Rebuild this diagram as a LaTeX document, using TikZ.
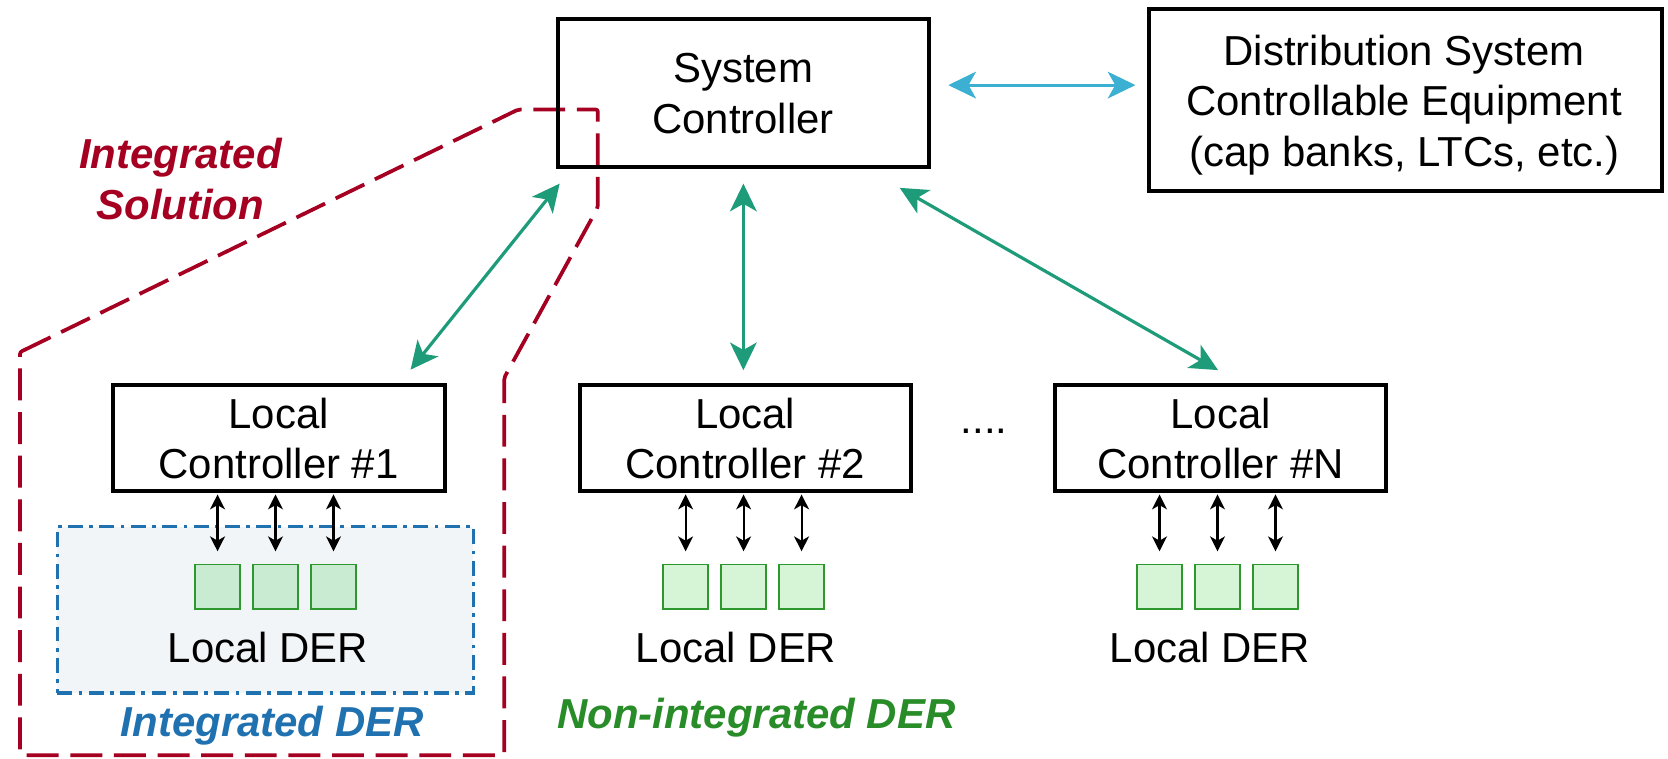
\documentclass[tikz,border=0pt]{standalone}
\usepackage{fontspec}
\setmainfont{Liberation Sans}
\usetikzlibrary{arrows.meta}
\definecolor{solred}{RGB}{165,0,33}
\definecolor{derblue}{RGB}{31,113,176}
\definecolor{dergreen}{RGB}{40,140,40}
\definecolor{linkgreen}{RGB}{30,155,120}
\definecolor{linkblue}{RGB}{59,176,210}
\definecolor{sqedge}{RGB}{46,152,46}
\definecolor{sqfill}{RGB}{214,244,214}
\definecolor{sqfillin}{RGB}{201,235,210}
\definecolor{iderfill}{RGB}{242,245,248}
\begin{document}
\begin{tikzpicture}[x=1pt,y=-1pt,
  bigfont/.style={font=\fontsize{39.4}{47.5}\selectfont},
  lblfont/.style={font=\fontsize{39.4}{47.5}\selectfont\bfseries\itshape},
  ctrl/.style={draw=black, line width=3.7pt, inner sep=0pt},
  txt/.style={bigfont, align=center, inner sep=0pt, anchor=north},
  der/.style={draw=sqedge, line width=1.5pt, minimum size=42pt, inner sep=0pt},
  garrow/.style={draw=linkgreen, line width=3pt,
    {Stealth[length=26pt,width=25pt,inset=7pt]}-{Stealth[length=26pt,width=25pt,inset=7pt]}},
  barrow/.style={draw=linkblue, line width=3pt,
    {Stealth[length=26pt,width=25pt,inset=7pt]}-{Stealth[length=26pt,width=25pt,inset=7pt]}},
  karrow/.style={draw=black, line width=2pt,
    {Stealth[length=14pt,width=14pt,inset=4pt]}-{Stealth[length=14pt,width=14pt,inset=4pt]}},
]
\useasboundingbox (0,0) rectangle (1568,713);

% integrated solution outline
\draw[solred, line width=3.5pt, dash pattern=on 30pt off 11pt, rounded corners=2pt]
  (18.8,331) -- (487,103) -- (562,103) -- (562,195) -- (474,355) -- (474,710) -- (18.8,710) -- cycle;
\node[lblfont, text=solred, align=center, inner sep=0pt, anchor=north] (soltxt) at (169.5,129.8) {Integrated\\Solution};

% integrated DER region
\node[draw=derblue, fill=iderfill, line width=3.4pt, dash pattern=on 14pt off 6pt on 3.5pt off 6pt,
  minimum width=391pt, minimum height=156.5pt, inner sep=0pt] (ider) at (249.5,573.25) {};

% controllers
\node[ctrl, minimum width=348.7pt, minimum height=139.3pt] (sys) at (698.8,87.5) {};
\node[ctrl, minimum width=482.3pt, minimum height=170.3pt] (dist) at (1321,94) {};
\node[ctrl, minimum width=312.3pt, minimum height=99.3pt] (lc1) at (262,411.5) {};
\node[ctrl, minimum width=311.3pt, minimum height=99.3pt] (lc2) at (700.5,411.5) {};
\node[ctrl, minimum width=311.3pt, minimum height=99.3pt] (lcn) at (1147.5,411.5) {};

\node[txt] (syst) at (698.5,50.1) {System\\Controller};
\node[txt] (distt) at (1320,32.5) {Distribution System\\Controllable Equipment\\(cap banks, LTCs, etc.)};
\node[txt] (lc1t) at (262,373.6) {Local\\Controller \#1};
\node[txt] (lc2t) at (700.5,373.6) {Local\\Controller \#2};
\node[txt] (lcnt) at (1147.5,373.6) {Local\\Controller \#N};
\node[bigfont, anchor=base, inner sep=0pt] (dots) at (925,407.5) {....};

% DER squares
\foreach \i/\x in {1/204.5,2/259,3/313.5}
  \node[der, fill=sqfillin] (d1\i) at (\x,551.5) {};
\foreach \i/\x in {1/644.5,2/699,3/753.5}
  \node[der, fill=sqfill] (d2\i) at (\x,551.5) {};
\foreach \i/\x in {1/1090,2/1144.5,3/1199}
  \node[der, fill=sqfill] (dn\i) at (\x,551.5) {};

% local arrows
\foreach \i in {1,2,3}{
  \draw[karrow, shorten <=1.8pt, shorten >=11.5pt] (d1\i.north |- lc1.south) -- (d1\i.north);
  \draw[karrow, shorten <=1.8pt, shorten >=11.5pt] (d2\i.north |- lc2.south) -- (d2\i.north);
  \draw[karrow, shorten <=1.8pt, shorten >=11.5pt] (dn\i.north |- lcn.south) -- (dn\i.north);
}

\node[bigfont, anchor=base, inner sep=0pt] (ld1) at (252,623) {Local DER};
\node[bigfont, anchor=base, inner sep=0pt] (ld2) at (692,623) {Local DER};
\node[bigfont, anchor=base, inner sep=0pt] (ldn) at (1137.5,623) {Local DER};

% system links
\draw[garrow] ([shift={(3.5,13.6)}]sys.south west) -- ([shift={(124,-12.5)}]lc1.north);
\draw[garrow] ([yshift=-13.6pt]sys.south) -- ([yshift=12pt]sys.south |- lc2.north);
\draw[garrow] ([shift={(-29.2,17.6)}]sys.south east) -- ([shift={(-2.5,-12.1)}]lcn.north);
\coordinate (bs) at ([shift={(16.4,-7.5)}]sys.east);
\draw[barrow] (bs) -- ([xshift=-10.6pt]bs -| dist.west);

% labels
\node[lblfont, text=derblue, anchor=base, inner sep=0pt] (iderlbl) at (256,692.5) {Integrated DER};
\node[lblfont, text=dergreen, anchor=base, inner sep=0pt] (nilbl) at (711,684.5) {Non-integrated DER};
\end{tikzpicture}
\end{document}
